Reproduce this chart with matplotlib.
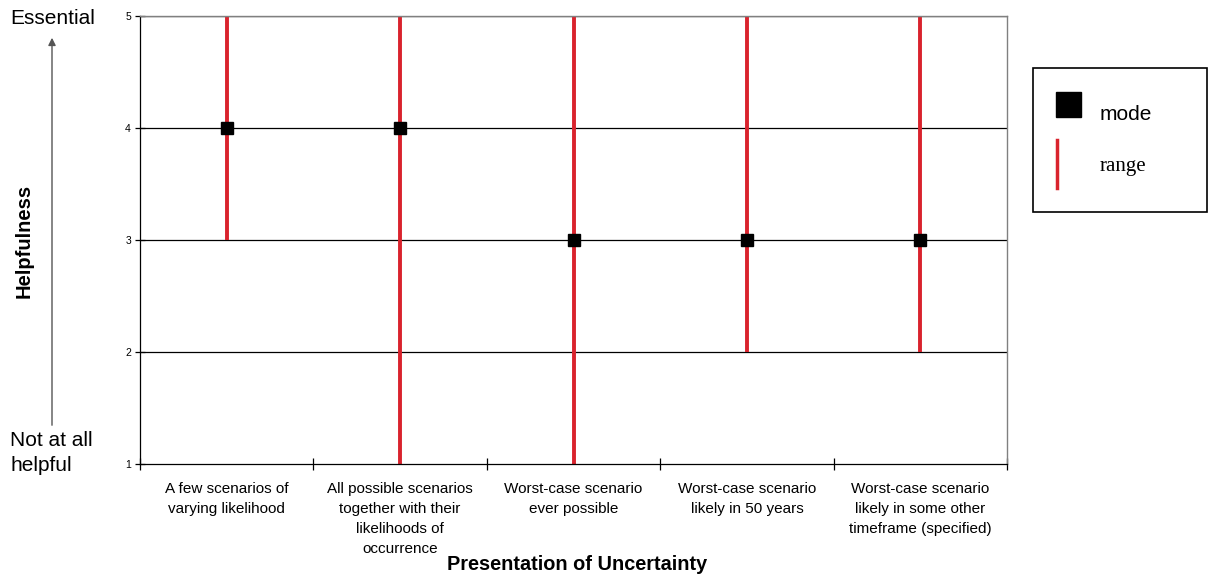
import matplotlib.pyplot as plt
from matplotlib.lines import Line2D
from matplotlib.patches import Rectangle

# data
categories = [
    "A few scenarios of\nvarying likelihood",
    "All possible scenarios\ntogether with their\nlikelihoods of\noccurrence",
    "Worst-case scenario\never possible",
    "Worst-case scenario\nlikely in 50 years",
    "Worst-case scenario\nlikely in some other\ntimeframe (specified)",
]
range_low = [3, 1, 1, 2, 2]
range_high = [5, 5, 5, 5, 5]
mode = [4, 4, 3, 3, 3]

plt.rcParams["font.family"] = ["Liberation Sans", "DejaVu Sans"]

W, H = 1209, 581
fig = plt.figure(figsize=(12.09, 5.81), dpi=100)
ax = fig.add_axes([140 / W, 1 - 464 / H, 867 / W, 448 / H])

x = [i + 0.5 for i in range(len(categories))]
red = "#d9232d"

for v in [2, 3, 4, 5]:
    ax.axhline(v, color="black", lw=0.9, zorder=1)

ax.vlines(x, range_low, range_high, color=red, lw=2.8, zorder=2)
ax.plot(x, mode, ls="none", marker="s", ms=8, color="black", zorder=3)

ax.set_xlim(0, len(categories))
ax.set_ylim(1, 5)
ax.set_yticks([1, 2, 3, 4, 5])
ax.set_yticklabels(["1", "2", "3", "4", "5"], fontsize=7.5)
ax.set_xticks(range(len(categories) + 1))
ax.set_xticklabels([])
ax.set_xticks(x, minor=True)
ax.set_xticklabels(categories, minor=True, fontsize=11, linespacing=1.55)
ax.tick_params(axis="x", which="minor", length=0, pad=13)
ax.tick_params(axis="x", which="major", direction="inout", length=8, width=0.9)
ax.tick_params(axis="y", direction="inout", length=7, width=0.9, pad=3)

for s in ["left", "bottom"]:
    ax.spines[s].set_color("black")
    ax.spines[s].set_linewidth(0.9)
for s in ["top", "right"]:
    ax.spines[s].set_color("#808080")
    ax.spines[s].set_linewidth(1.0)

fig.text(577 / W, 1 - 564 / H, "Presentation of Uncertainty",
         ha="center", va="center", fontsize=14.3, fontweight="bold")

# left side annotations
fig.text(10 / W, 1 - 18 / H, "Essential", ha="left", va="center", fontsize=15)
fig.text(10 / W, 1 - 453 / H, "Not at all\nhelpful", ha="left", va="center",
         fontsize=15, linespacing=1.35)
fig.text(24 / W, 1 - 241 / H, "Helpfulness", ha="center", va="center",
         rotation=90, fontsize=14.5, fontweight="bold")
fig.add_artist(plt.Annotation(
    "", xy=(52 / W, 1 - 35 / H), xytext=(52 / W, 1 - 428 / H),
    xycoords="figure fraction", textcoords="figure fraction",
    arrowprops=dict(arrowstyle="-|>", color="#555555", lw=1.0, mutation_scale=11)))

# legend box drawn by hand
fig.add_artist(Rectangle((1033 / W, 1 - 212 / H), 174 / W, 144 / H,
                         transform=fig.transFigure, fill=False,
                         edgecolor="black", lw=1.2))
fig.add_artist(Line2D([1068 / W], [1 - 104 / H], transform=fig.transFigure,
                      ls="none", marker="s", ms=18, color="black"))
fig.add_artist(Line2D([1057 / W, 1057 / W], [1 - 140 / H, 1 - 188 / H],
                      transform=fig.transFigure, color=red, lw=2.5))
fig.text(1100 / W, 1 - 115 / H, "mode", ha="left", va="center", fontsize=15)
fig.text(1100 / W, 1 - 167 / H, "range", ha="left", va="center", fontsize=15,
         family=["Liberation Serif", "DejaVu Serif"])

fig.savefig("out.png", dpi=100)
